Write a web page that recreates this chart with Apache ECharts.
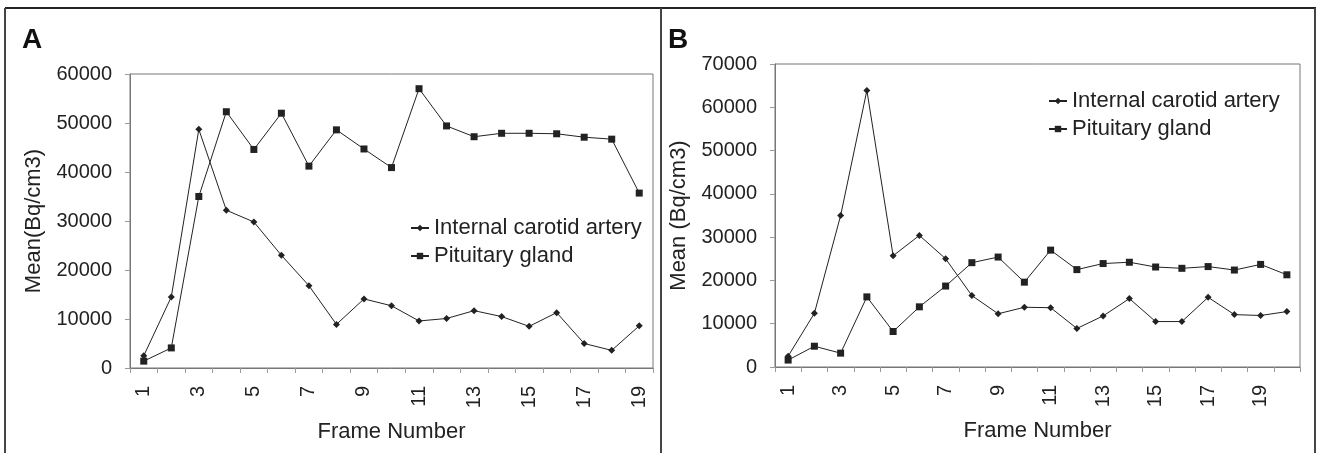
<!DOCTYPE html>
<html>
<head>
<meta charset="utf-8">
<script src="https://cdn.jsdelivr.net/npm/echarts@6/dist/echarts.min.js"></script>
<style>
  html, body { margin: 0; padding: 0; background: #fff; }
  #chart { width: 1319px; height: 453px; }
</style>
</head>
<body>
<div id="chart"></div>
<script>
// frame numbers (categories)
const framesA = ['1','2','3','4','5','6','7','8','9','10','11','12','13','14','15','16','17','18','19'];
const framesB = ['1','2','3','4','5','6','7','8','9','10','11','12','13','14','15','16','17','18','19','20'];

// panel A values, Bq/cm3
const carotidA = [2500, 14500, 48700, 32200, 29800, 23000, 16800, 8900, 14100, 12700, 9600, 10100, 11700, 10500, 8500, 11300, 5000, 3600, 8600];
const pituitaryA = [1400, 4100, 35000, 52300, 44600, 52000, 41200, 48600, 44700, 40900, 57000, 49400, 47200, 47900, 47900, 47800, 47100, 46700, 35700];

// panel B values, Bq/cm3
const carotidB = [2500, 12400, 35000, 63900, 25700, 30400, 25000, 16500, 12300, 13800, 13700, 8900, 11800, 15800, 10500, 10500, 16100, 12100, 11900, 12800];
const pituitaryB = [1600, 4800, 3200, 16200, 8200, 13900, 18700, 24100, 25400, 19600, 27000, 22500, 23900, 24200, 23100, 22800, 23200, 22400, 23700, 21300];

const FONT = 'Liberation Sans';
const INK = '#222';
const AXIS = '#777';

function xAxisFor(idx, cats) {
    return {
        type: 'category',
        gridIndex: idx,
        data: cats,
        boundaryGap: true,
        name: 'Frame Number',
        nameLocation: 'middle',
        nameGap: 53,
        nameMoveOverlap: false,
        nameTextStyle: { fontFamily: FONT, fontSize: 22, color: INK },
        axisLine: { lineStyle: { color: AXIS, width: 1 } },
        axisTick: { show: true, interval: 0, length: 5, lineStyle: { color: '#999' } },
        axisLabel: { interval: 1, rotate: 90, margin: 18, fontFamily: FONT, fontSize: 20, color: INK },
        splitLine: { show: false }
    };
}

function yAxisFor(idx, max, title) {
    return {
        type: 'value',
        gridIndex: idx,
        min: 0,
        max: max,
        interval: 10000,
        name: title,
        nameLocation: 'middle',
        nameGap: 85,
        nameMoveOverlap: false,
        nameTextStyle: { fontFamily: FONT, fontSize: 22, color: INK },
        axisLine: { show: true, lineStyle: { color: AXIS, width: 1 } },
        axisTick: { show: true, length: 5, lineStyle: { color: '#999' } },
        axisLabel: { margin: 18, fontFamily: FONT, fontSize: 20, color: INK, formatter: v => String(v) },
        splitLine: { show: false }
    };
}

function lineSeries(name, idx, data, symbol, size) {
    return {
        name: name,
        type: 'line',
        xAxisIndex: idx,
        yAxisIndex: idx,
        data: data,
        symbol: symbol,
        symbolSize: size,
        showSymbol: true,
        lineStyle: { color: INK, width: 1 },
        itemStyle: { color: INK },
        emphasis: { disabled: true },
        animation: false
    };
}

const legendText = { fontFamily: FONT, fontSize: 22, color: INK, lineHeight: 20 };

const chart = echarts.init(document.getElementById('chart'));
chart.setOption({
    backgroundColor: '#fff',
    animation: false,
    grid: [
        { left: 130, top: 74, width: 523, height: 294, show: true, borderColor: AXIS, borderWidth: 1, backgroundColor: 'transparent' },
        { left: 775, top: 64, width: 525, height: 303, show: true, borderColor: AXIS, borderWidth: 1, backgroundColor: 'transparent' }
    ],
    legend: [
        {
            orient: 'vertical', left: 405, top: 212, itemGap: 6, itemWidth: 18, itemHeight: 8,
            textStyle: legendText,
            data: ['Internal carotid artery', 'Pituitary gland'],
            selectedMode: false
        },
        {
            orient: 'vertical', left: 1043, top: 85, itemGap: 6, itemWidth: 18, itemHeight: 8,
            textStyle: legendText,
            data: ['Internal carotid artery ', 'Pituitary gland '],
            selectedMode: false
        }
    ],
    xAxis: [xAxisFor(0, framesA), xAxisFor(1, framesB)],
    yAxis: [yAxisFor(0, 60000, 'Mean(Bq/cm3)'), yAxisFor(1, 70000, 'Mean (Bq/cm3)')],
    series: [
        lineSeries('Internal carotid artery', 0, carotidA, 'diamond', 7),
        lineSeries('Pituitary gland', 0, pituitaryA, 'rect', 7),
        // panel B series carry a trailing space so each panel gets its own legend entries
        lineSeries('Internal carotid artery ', 1, carotidB, 'diamond', 7),
        lineSeries('Pituitary gland ', 1, pituitaryB, 'rect', 7)
    ],
    graphic: [
        { type: 'text', left: 22, top: 26, style: { text: 'A', fontFamily: FONT, fontWeight: 'bold', fontSize: 28, fill: '#111' } },
        { type: 'text', left: 668, top: 26, style: { text: 'B', fontFamily: FONT, fontWeight: 'bold', fontSize: 28, fill: '#111' } },
        // figure frame
        { type: 'line', shape: { x1: 5, y1: 8, x2: 1316, y2: 8 }, style: { stroke: '#222', lineWidth: 2 } },
        { type: 'line', shape: { x1: 5, y1: 8, x2: 5, y2: 453 }, style: { stroke: '#444', lineWidth: 2 } },
        { type: 'line', shape: { x1: 661, y1: 8, x2: 661, y2: 453 }, style: { stroke: '#444', lineWidth: 2 } },
        { type: 'line', shape: { x1: 1315, y1: 8, x2: 1315, y2: 453 }, style: { stroke: '#444', lineWidth: 2 } }
    ]
});
</script>
</body>
</html>
